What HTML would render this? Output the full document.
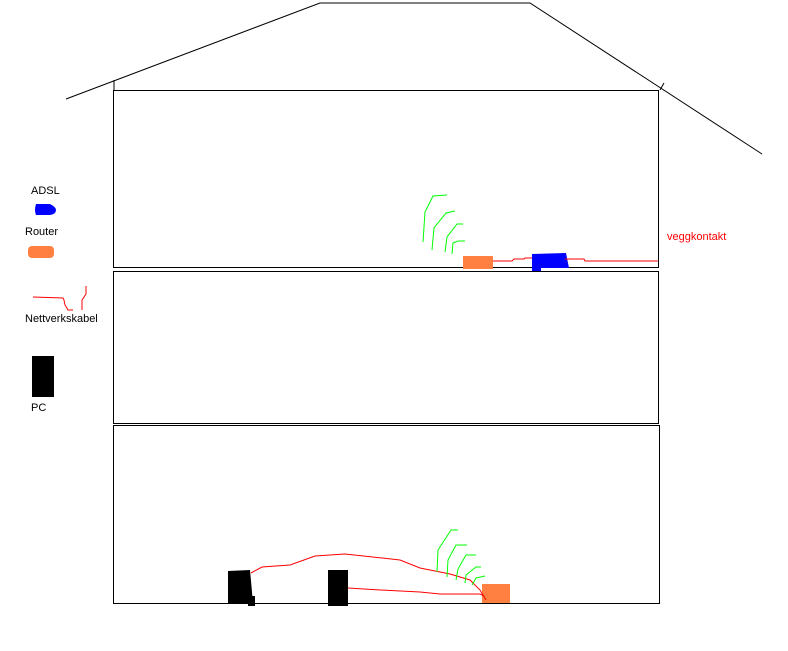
<!DOCTYPE html>
<html><head><style>
body{margin:0;background:#fff;}
svg{display:block}
text{font-family:"Liberation Sans",sans-serif;font-size:11px}
</style></head><body>
<svg width="788" height="651" viewBox="0 0 788 651" xmlns="http://www.w3.org/2000/svg">
<g fill="none" stroke="#000" stroke-width="1">
<polyline points="66,99 320,3 530,3 762,154"/>
<line x1="114" y1="80" x2="114" y2="91"/>
<line x1="664" y1="83" x2="660" y2="90"/>
<rect x="113.5" y="90.5" width="545" height="177"/>
<rect x="113.5" y="271.5" width="545" height="152"/>
<rect x="113.5" y="425.5" width="546" height="178"/>
</g>
<rect x="463" y="256" width="30" height="13" fill="#ff8040"/>
<path d="M532,254 L566,253 L569,268 L541,268 L541,271 L532,271 Z" fill="#0000ff"/>
<polyline points="493,261 512,261 514,259 524,259 525,258 532,258" fill="none" stroke="#f00"/>
<polyline points="565,259 584,259 585,261 658,261" fill="none" stroke="#f00"/>
<g fill="none" stroke="#0f0">
<path d="M423,242 L425,212 L433,196 L447,195"/>
<path d="M432,250 L434,228 L446,213 L455,211"/>
<path d="M445,252 L447,237 L457,224 L463,224"/>
<path d="M452,254 L453,243 L458,241 L465,241"/>
</g>
<text x="667" y="240" fill="#f00">veggkontakt</text>
<path d="M228,571 L250,570 L253,603 L228,603 Z" fill="#000"/>
<rect x="248" y="596" width="7" height="10" fill="#000"/>
<rect x="328" y="570" width="20" height="36" fill="#000"/>
<rect x="482" y="584" width="28" height="19" fill="#ff8040"/>
<g fill="none" stroke="#f00">
<path d="M251,573 L262,567 L290,565 L315,556 L345,554 L400,560 L420,568 L450,574 L470,580 L480,590 L486,600"/>
<path d="M348,588 L380,590 L420,592 L440,594 L480,594 L484,596"/>
</g>
<g fill="none" stroke="#0f0">
<path d="M437,572 L438,550 L451,530 L458,530"/>
<path d="M447,577 L448,560 L456,545 L467,545"/>
<path d="M456,580 L458,569 L466,555 L476,555"/>
<path d="M465,583 L466,575 L476,567 L481,567"/>
<path d="M472,585 L476,578 L485,576"/>
</g>
<text x="31" y="194" fill="#000">ADSL</text>
<path d="M36,204 L50,204 Q56,207 56,210 Q56,214 50,215 L36,215 Q34,210 36,204 Z" fill="#0000ff"/>
<text x="25" y="235" fill="#000">Router</text>
<rect x="28" y="246" width="26" height="12" rx="4" fill="#ff8040"/>
<polyline points="33,297 63,298 64,300 65,305 68,310 73,310" fill="none" stroke="#f00"/>
<polyline points="82,310 82,300 86,294 86,286" fill="none" stroke="#f00"/>
<text x="25" y="322" fill="#000">Nettverkskabel</text>
<rect x="32" y="356" width="22" height="41" fill="#000"/>
<text x="31" y="411" fill="#000">PC</text>
</svg>
</body></html>
